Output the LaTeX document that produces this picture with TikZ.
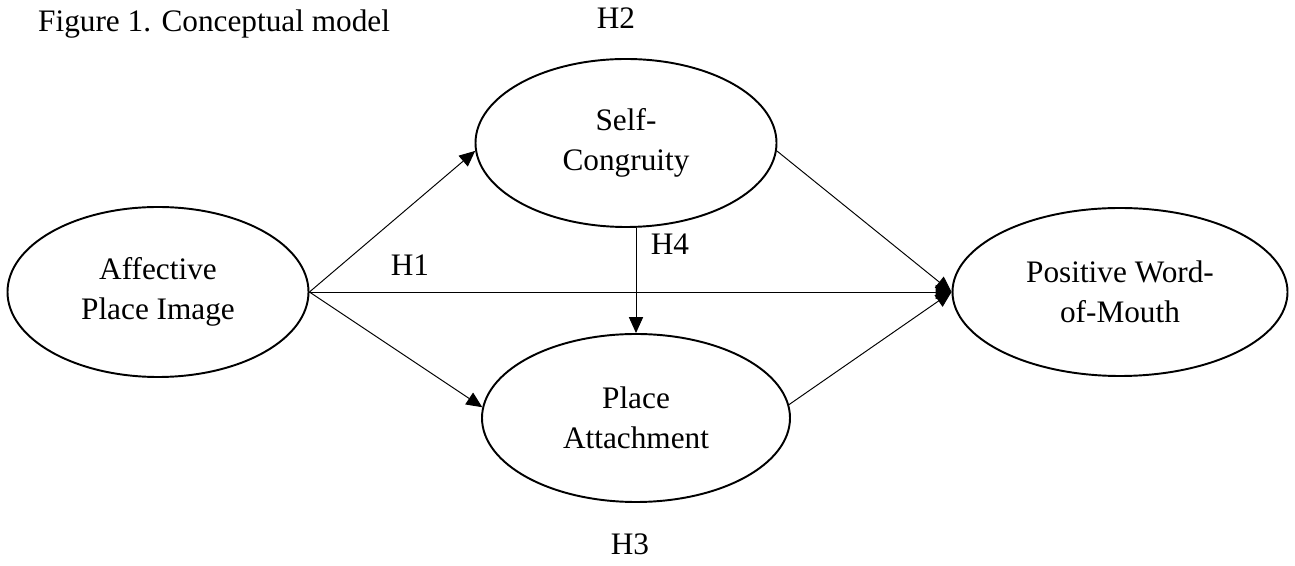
\documentclass[tikz,border=0pt]{standalone}
\usepackage{fontspec}
\setmainfont{Liberation Serif}
\usetikzlibrary{shapes.geometric,arrows.meta}

\begin{document}
\begin{tikzpicture}[
    font=\fontsize{17.8}{22.8}\selectfont,
    construct/.style={draw, ellipse, line width=1.1pt, inner sep=0pt, align=center},
    link/.style={-{Triangle[length=9pt,width=8pt]}, line width=0.55pt},
    hyp/.style={anchor=base}
]
    \useasboundingbox (0,0) rectangle (25.9,11.32);
    \node[anchor=base west] (title) at (0.64,10.68) {Figure 1. Conceptual model};
    % constructs
    \node[construct, minimum width=6.02cm, minimum height=3.4cm] (apl) at (3.16,5.48) {Affective\\Place Image};
    \node[construct, minimum width=6.02cm, minimum height=3.36cm] (sc) at (12.52,8.46) {Self-\\Congruity};
    \node[construct, minimum width=6.16cm, minimum height=3.36cm] (pa) at (12.72,2.96) {Place\\Attachment};
    \node[construct, minimum width=6.7cm, minimum height=3.36cm] (pw) at (22.40,5.48) {Positive Word-\\of-Mouth};
    % paths
    \draw[link] (apl.east) -- (sc.183);
    \draw[link] (apl.east) -- (pa.176);
    \draw[link] (apl.east) -- (pw.west);
    \draw[link] (sc.south -| pa.north) -- (pa.north);
    \draw[link] (sc.-3) -- (pw.west);
    \draw[link] (pa.5) -- (pw.west);
    % hypotheses
    \node[hyp] (h1) at (8.2,5.8) {H1};
    \node[hyp] (h2) at (12.32,10.74) {H2};
    \node[hyp] (h3) at (12.6,0.22) {H3};
    \node[hyp] (h4) at (13.4,6.22) {H4};
\end{tikzpicture}
\end{document}
